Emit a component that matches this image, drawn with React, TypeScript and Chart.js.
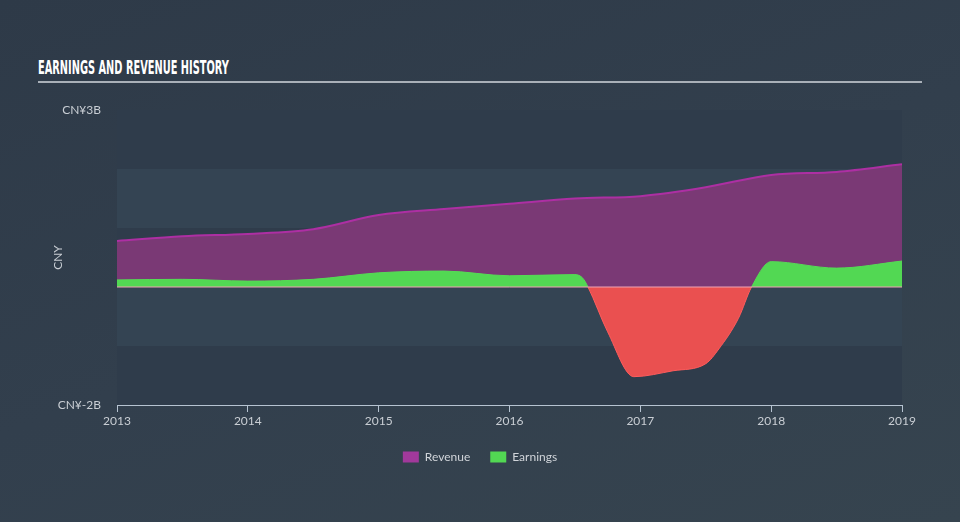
import React, { useEffect, useRef } from "react";
import { Chart, registerables } from "chart.js";

Chart.register(...registerables);

const TITLE = "EARNINGS AND REVENUE HISTORY";
const Y_AXIS_TITLE = "CNY";
const X_TICKS = [2013, 2014, 2015, 2016, 2017, 2018, 2019];
const Y_TICK_LABELS: Record<string, string> = { "3": "CN¥3B", "-2": "CN¥-2B" };

const revenueX = [2013.0, 2013.5, 2014.0, 2014.5, 2015.0, 2015.5, 2016.0, 2016.5, 2017.0, 2017.5, 2018.0, 2018.5, 2019.0];
const revenueY = [0.78, 0.86, 0.9, 0.98, 1.22, 1.32, 1.41, 1.5, 1.54, 1.69, 1.9, 1.95, 2.08];

const earningsX = [2013.0, 2013.5, 2014.0, 2014.5, 2015.0, 2015.5, 2016.0, 2016.5, 2016.56, 2016.6, 2016.75, 2016.95, 2017.25, 2017.5, 2017.6, 2017.75, 2017.85, 2018.0, 2018.5, 2019.0];
const earningsY = [0.12, 0.13, 0.1, 0.13, 0.24, 0.27, 0.19, 0.21, 0.15, 0.0, -0.76, -1.52, -1.42, -1.3, -1.05, -0.53, 0.0, 0.43, 0.32, 0.44];

const LEGEND_LABELS = ["Revenue", "Earnings"];
const LEGEND_COLORS = ["#a1399b", "#52d853"];

const bandPlugin = {
  id: "bands",
  beforeDatasetsDraw(chart: any) {
    const { ctx, chartArea, scales } = chart;
    const y = scales.y;
    const bounds = [3, 2, 1, 0, -1, -2];
    ctx.save();
    for (let i = 0; i < bounds.length - 1; i++) {
      const top = y.getPixelForValue(bounds[i]);
      const bot = y.getPixelForValue(bounds[i + 1]);
      ctx.fillStyle = i % 2 === 0 ? "#2f3c4b" : "#344453";
      ctx.fillRect(chartArea.left, top, chartArea.right - chartArea.left, bot - top);
    }
    ctx.restore();
  },
  afterDatasetsDraw(chart: any) {
    const { ctx, chartArea, scales } = chart;
    const y0 = scales.y.getPixelForValue(0);
    ctx.save();
    ctx.strokeStyle = "#f0a3b4";
    ctx.lineWidth = 1;
    ctx.beginPath();
    ctx.moveTo(chartArea.left, y0);
    ctx.lineTo(chartArea.right, y0);
    ctx.stroke();
    ctx.restore();
  },
};

export default function App() {
  const canvasRef = useRef<HTMLCanvasElement | null>(null);
  const titleRef = useRef<HTMLSpanElement | null>(null);

  useEffect(() => {
    document.body.style.margin = "0";
    if (titleRef.current) {
      const w = titleRef.current.offsetWidth;
      titleRef.current.style.transform = `scaleX(${191 / w})`;
    }
    const canvas = canvasRef.current;
    if (!canvas) return;
    const chart = new Chart(canvas, {
      type: "line",
      data: {
        datasets: [
          {
            label: "Revenue",
            data: revenueX.map((x, i) => ({ x, y: revenueY[i] })),
            borderColor: "#ad2fa3",
            borderWidth: 2,
            backgroundColor: "#7a3975",
            fill: { target: { value: 0 }, above: "#7a3975", below: "#7a3975" },
            pointRadius: 0,
            cubicInterpolationMode: "monotone",
            order: 2,
          },
          {
            label: "Earnings",
            data: earningsX.map((x, i) => ({ x, y: earningsY[i] })),
            borderColor: "#55dc55",
            borderWidth: 1,
            backgroundColor: "#52d853",
            fill: { target: { value: 0 }, above: "#52d853", below: "#ea5050" },
            pointRadius: 0,
            cubicInterpolationMode: "monotone",
            segment: {
              borderColor: (c: any) => (c.p0.parsed.y < 0 || c.p1.parsed.y < 0 ? "#ff5c5c" : "#55dc55"),
            },
            order: 1,
          },
        ],
      },
      options: {
        animation: false,
        responsive: true,
        maintainAspectRatio: false,
        layout: { padding: { top: 110, right: 0, bottom: 49, left: 0 } },
        plugins: {
          tooltip: { enabled: false },
          legend: {
            position: "bottom",
            labels: {
              boxWidth: 16,
              boxHeight: 11,
              padding: 20,
              color: "#d0d4d9",
              font: { family: "Lato", size: 12 },
              generateLabels: () =>
                LEGEND_LABELS.map((text, i) => ({
                  text,
                  fillStyle: LEGEND_COLORS[i],
                  strokeStyle: LEGEND_COLORS[i],
                  lineWidth: 0,
                  hidden: false,
                  datasetIndex: i,
                  fontColor: "#d0d4d9",
                })),
            },
          },
        },
        scales: {
          x: {
            type: "linear",
            min: 2013,
            max: 2019,
            afterBuildTicks: (s: any) => {
              s.ticks = X_TICKS.map((v) => ({ value: v }));
            },
            afterFit: (s: any) => {
              s.height = 26;
            },
            ticks: {
              color: "#c9ced4",
              font: { family: "Lato", size: 12 },
              padding: 2,
              maxRotation: 0,
              callback: (v: any) => String(v),
            },
            grid: { drawOnChartArea: false, drawTicks: true, tickLength: 7, color: "#b6c3d1" },
            border: { display: true, color: "#b6c3d1", width: 1 },
          },
          y: {
            type: "linear",
            min: -2,
            max: 3,
            afterBuildTicks: (s: any) => {
              s.ticks = [-2, 3].map((v) => ({ value: v }));
            },
            afterFit: (s: any) => {
              s.width = 117;
            },
            ticks: {
              color: "#c9ced4",
              font: { family: "Lato", size: 12 },
              padding: 8,
              callback: (v: any) => Y_TICK_LABELS[String(v)] ?? "",
            },
            grid: { display: false },
            border: { display: false },
            title: {
              display: true,
              text: Y_AXIS_TITLE,
              color: "#c9ced4",
              font: { family: "Lato", size: 12 },
              padding: { top: 51, bottom: 0 },
            },
          },
          yRight: {
            type: "linear",
            position: "right",
            min: -2,
            max: 3,
            afterFit: (s: any) => {
              s.width = 58;
            },
            ticks: { display: false },
            grid: { display: false },
            border: { display: false },
          },
        },
      },
      plugins: [bandPlugin],
    });
    return () => chart.destroy();
  }, []);

  return (
    <div
      style={{
        position: "fixed",
        left: 0,
        top: 0,
        width: 960,
        height: 522,
        background: "linear-gradient(160deg, #2e3a48 0%, #323f4d 50%, #36444f 100%)",
        overflow: "hidden",
      }}
    >
      <div
        style={{
          position: "absolute",
          left: 38,
          top: 55,
          height: 24,
          whiteSpace: "nowrap",
          color: "#ffffff",
        }}
      >
        <span
          ref={titleRef}
          style={{
            display: "inline-block",
            fontFamily: "'DejaVu Sans Condensed', 'DejaVu Sans'",
            fontWeight: "bold",
            fontSize: 20,
            lineHeight: "24px",
            transformOrigin: "left center",
          }}
        >
          {TITLE}
        </span>
      </div>
      <div
        style={{
          position: "absolute",
          left: 38,
          top: 81,
          width: 884,
          height: 2,
          background: "#a9b0b8",
        }}
      />
      <canvas ref={canvasRef} style={{ position: "absolute", left: 0, top: 0, width: 960, height: 522 }} />
    </div>
  );
}
